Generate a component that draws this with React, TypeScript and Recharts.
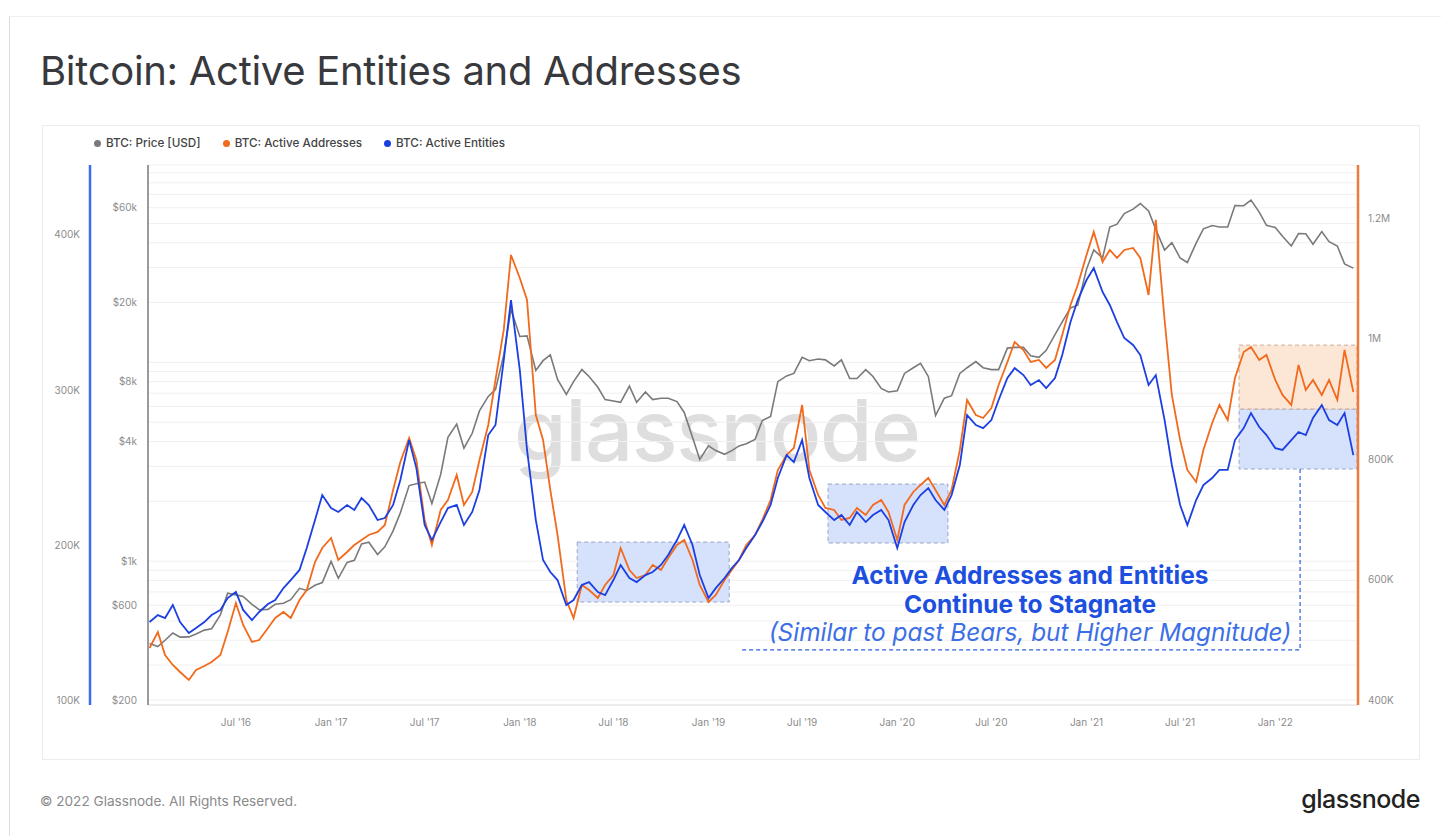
import React from 'react';
import {
  LineChart,
  Line,
  XAxis,
  YAxis,
  CartesianGrid,
  Legend,
  ReferenceArea,
  ReferenceLine,
} from 'recharts';

// ---------- DATA ----------
const dates = [
  '2016-01-16', '2016-02-01', '2016-02-15', '2016-03-01', '2016-03-15', '2016-04-01', '2016-04-15', '2016-05-01', '2016-05-15', '2016-06-01', '2016-06-15',
  '2016-07-01', '2016-07-15', '2016-08-01', '2016-08-15', '2016-09-01', '2016-09-15', '2016-10-01', '2016-10-15', '2016-11-01', '2016-11-15', '2016-12-01', '2016-12-15',
  '2017-01-01', '2017-01-15', '2017-02-01', '2017-02-15', '2017-03-01', '2017-03-15', '2017-04-01', '2017-04-15', '2017-05-01', '2017-05-15', '2017-06-01', '2017-06-15',
  '2017-07-01', '2017-07-15', '2017-08-01', '2017-08-15', '2017-09-01', '2017-09-15', '2017-10-01', '2017-10-15', '2017-11-01', '2017-11-15', '2017-12-01', '2017-12-15',
  '2018-01-01', '2018-01-15', '2018-02-01', '2018-02-15', '2018-03-01', '2018-03-15', '2018-04-01', '2018-04-15', '2018-05-01', '2018-05-15', '2018-06-01', '2018-06-15',
  '2018-07-01', '2018-07-15', '2018-08-01', '2018-08-15', '2018-09-01', '2018-09-15', '2018-10-01', '2018-10-15', '2018-11-01', '2018-11-15', '2018-12-01', '2018-12-15',
  '2019-01-01', '2019-01-15', '2019-02-01', '2019-02-15', '2019-03-01', '2019-03-15', '2019-04-01', '2019-04-15', '2019-05-01', '2019-05-15', '2019-06-01', '2019-06-15',
  '2019-07-01', '2019-07-15', '2019-08-01', '2019-08-15', '2019-09-01', '2019-09-15', '2019-10-01', '2019-10-15', '2019-11-01', '2019-11-15', '2019-12-01', '2019-12-15',
  '2020-01-01', '2020-01-15', '2020-02-01', '2020-02-15', '2020-03-01', '2020-03-15', '2020-04-01', '2020-04-15', '2020-05-01', '2020-05-15', '2020-06-01', '2020-06-15',
  '2020-07-01', '2020-07-15', '2020-08-01', '2020-08-15', '2020-09-01', '2020-09-15', '2020-10-01', '2020-10-15', '2020-11-01', '2020-11-15', '2020-12-01', '2020-12-15',
  '2021-01-01', '2021-01-15', '2021-02-01', '2021-02-15', '2021-03-01', '2021-03-15', '2021-04-01', '2021-04-15', '2021-05-01', '2021-05-15', '2021-06-01', '2021-06-15',
  '2021-07-01', '2021-07-15', '2021-08-01', '2021-08-15', '2021-09-01', '2021-09-15', '2021-10-01', '2021-10-15', '2021-11-01', '2021-11-15', '2021-12-01', '2021-12-15',
  '2022-01-01', '2022-01-15', '2022-02-01', '2022-02-15', '2022-03-01', '2022-03-15', '2022-04-01', '2022-04-15', '2022-05-01', '2022-05-15', '2022-06-01',
];

const priceUsd = [
  385, 372, 400, 435, 415, 416, 430, 450, 457, 537, 690,
  677, 665, 607, 570, 572, 607, 614, 640, 730, 712, 756, 780,
  998, 820, 985, 1010, 1222, 1245, 1080, 1180, 1420, 1750, 2400, 2450,
  2500, 1950, 2730, 4200, 4890, 3700, 4400, 5700, 6740, 7300, 10900, 18500,
  13500, 13600, 9100, 10200, 10900, 8200, 6900, 8000, 9200, 8500, 7500, 6500,
  6400, 6300, 7600, 6300, 7100, 6500, 6600, 6600, 6350, 5600, 4200, 3250,
  3800, 3600, 3450, 3600, 3800, 3900, 4100, 5100, 5350, 8000, 8550, 8800,
  10600, 10200, 10400, 10300, 9600, 10300, 8300, 8300, 9200, 8500, 7400, 7100,
  7200, 8800, 9400, 9900, 8500, 5400, 6600, 6800, 8800, 9400, 10100, 9400,
  9200, 9200, 11800, 11900, 11900, 10800, 10600, 11500, 13800, 16000, 18800, 19400,
  29400, 36800, 33500, 48000, 49600, 56000, 59000, 63000, 57800, 46700, 36700, 40000,
  33500, 31800, 39800, 47000, 48800, 48000, 48000, 61500, 61400, 65500, 57000, 48900,
  47700, 43100, 38500, 44500, 44400, 39300, 45500, 40500, 38500, 31300, 29800,
];

const activeAddresses = [
  486300, 512900, 474700, 458100, 446500, 433200, 449800, 456400, 463100, 474700, 512900,
  561000, 524500, 496300, 499600, 519500, 536100, 546100, 536100, 566000, 582600, 629100, 652300,
  668900, 632400, 645700, 657300, 665600, 673900, 678900, 690500, 748600, 795100, 834900, 798400,
  698800, 657300, 715400, 732000, 773500, 723700, 745300, 798400, 856500, 931200, 1014200, 1138700,
  1100500, 1064000, 873100, 831600, 748600, 673900, 566000, 536100, 590900, 582600, 569300, 590900,
  607500, 652300, 615800, 602500, 607500, 624100, 615800, 635700, 657300, 665600, 632400, 590900,
  562700, 574300, 599200, 615800, 632400, 657300, 673900, 698800, 732000, 781800, 806700, 818300,
  889700, 781800, 740300, 718700, 715400, 698800, 702100, 718700, 707100, 723700, 732000, 712100,
  665600, 723700, 745300, 756900, 768500, 748600, 723700, 748600, 815000, 898000, 873100, 868100,
  884700, 922900, 961100, 994300, 981000, 961100, 964400, 951100, 964400, 1005900, 1055700, 1088900,
  1138700, 1176900, 1127100, 1147000, 1133700, 1147000, 1150300, 1133700, 1072300, 1196800, 1030800, 906300,
  831600, 781800, 761900, 815000, 859800, 889700, 864800, 934500, 977700, 986000, 964400, 972700,
  931200, 906300, 889700, 956100, 914600, 931200, 906300, 931200, 898000, 981000, 911300,
];

const activeEntities = [
  150300, 154800, 152900, 161300, 150300, 143200, 146400, 150300, 154800, 158100, 165800,
  169700, 158100, 151600, 156800, 161900, 164500, 172200, 177400, 183900, 198000, 216100, 232200,
  223800, 221300, 225800, 222600, 230300, 225800, 216100, 217400, 225800, 241900, 267700, 249600,
  212900, 203200, 214800, 223800, 225800, 212900, 221300, 235500, 270900, 277400, 319300, 358000,
  312900, 261300, 216100, 190300, 182600, 177400, 161300, 164500, 174200, 176100, 169700, 167700,
  177400, 187100, 178700, 176100, 180600, 182600, 187100, 193500, 203200, 212900, 200000, 180600,
  165800, 172200, 178700, 185100, 190300, 198000, 206400, 214800, 225800, 243200, 258000, 253500,
  267700, 243200, 225800, 221300, 216100, 219300, 212900, 221300, 214800, 219300, 222600, 216100,
  198000, 214800, 225800, 232200, 236700, 229000, 222600, 232200, 251600, 283800, 277400, 275400,
  280600, 293500, 307700, 314100, 309600, 303200, 306400, 301200, 307700, 322500, 343800, 358000,
  370900, 378600, 363200, 354800, 343800, 333500, 329000, 322500, 303200, 309600, 280600, 251600,
  225800, 212900, 229000, 238700, 243200, 248400, 248400, 267700, 275400, 285100, 276100, 270900,
  262500, 261300, 267700, 272900, 270900, 281900, 290300, 280600, 277400, 285100, 258000,
];

const seriesNames = ['BTC: Price [USD]', 'BTC: Active Addresses', 'BTC: Active Entities'];

const xTickDates = [
  '2016-07-01', '2017-01-01', '2017-07-01', '2018-01-01', '2018-07-01', '2019-01-01',
  '2019-07-01', '2020-01-01', '2020-07-01', '2021-01-01', '2021-07-01', '2022-01-01',
];
const xTickLabels = [
  "Jul '16", "Jan '17", "Jul '17", "Jan '18", "Jul '18", "Jan '19",
  "Jul '19", "Jan '20", "Jul '20", "Jan '21", "Jul '21", "Jan '22",
];
const xDomainDates = ['2016-01-13', '2022-06-10'];

const entityTicks = [100000, 200000, 300000, 400000];
const entityDomain = [96800, 445100];
const addressTicks = [400000, 600000, 800000, 1000000, 1200000];
const addressDomain = [391700, 1288000];
const priceGridTicks = [
  200, 300, 400, 500, 600, 700, 800, 900,
  1000, 2000, 3000, 4000, 5000, 6000, 7000, 8000, 9000,
  10000, 20000, 30000, 40000, 50000, 60000, 70000, 80000, 90000,
];
const priceLabelTicks = [200, 600, 1000, 4000, 8000, 20000, 60000];
const priceDomain = [189, 98400];

// Annotation boxes (dates + values)
const stagnationBoxesEntities = [
  { from: '2018-04-22', to: '2019-02-10', low: 163200, high: 201900 },
  { from: '2019-08-20', to: '2020-04-08', low: 201300, high: 239300 },
  { from: '2021-10-23', to: '2022-06-08', low: 249000, high: 287700 },
];
const stagnationBoxesAddresses = [
  { from: '2021-10-23', to: '2022-06-08', low: 883000, high: 989000 },
];
const pointerLine = { fromDate: '2019-03-07', cornerDate: '2022-02-18', bottom: 132300, top: 249000 };

// ---------- HELPERS ----------
const ts = (d: string) => Date.parse(d + 'T00:00:00Z');

const rows = dates.map((d, i) => ({
  t: ts(d),
  price: priceUsd[i],
  addresses: activeAddresses[i],
  entities: activeEntities[i],
}));

const COLORS = {
  price: '#7a7a7a',
  addresses: '#f26a1c',
  entities: '#1c3fe2',
};

// axis ids (price sits next to the plot, entities outside it)
const PRICE_AXIS = 'a-price';
const ENTITY_AXIS = 'b-entities';
const ADDRESS_AXIS = 'c-addresses';

const FONT = 'Inter, "Noto Sans", sans-serif';
const tickStyle = { fontSize: 10, fill: '#8c8c8c', fontFamily: FONT };

const fmtEntity = (v: number) => `${Math.round(v / 1000)}K`;
const fmtAddress = (v: number) => (v >= 1000000 ? `${v / 1000000}M` : `${Math.round(v / 1000)}K`);
const fmtPrice = (v: number) => {
  if (!priceLabelTicks.includes(v)) return '';
  return v >= 1000 ? `$${v / 1000}k` : `$${v}`;
};
const fmtDate = (v: number) => {
  const i = xTickDates.map(ts).indexOf(v);
  return i >= 0 ? xTickLabels[i] : '';
};

const renderLegend = (props: any) => {
  const payload = [...(props.payload || [])].sort(
    (a: any, b: any) => seriesNames.indexOf(a.value) - seriesNames.indexOf(b.value)
  );
  return (
    <div style={{ display: 'flex', height: 32, fontFamily: FONT, fontSize: 11.7, fontWeight: 500, color: '#444' }}>
      {payload.map((p: any) => (
        <div key={p.value} style={{ display: 'flex', alignItems: 'center', height: 20, marginRight: 22 }}>
          <span style={{ width: 7, height: 7, borderRadius: '50%', background: p.color, marginRight: 5, display: 'inline-block' }} />
          <span>{p.value}</span>
        </div>
      ))}
    </div>
  );
};

export default function App() {
  return (
    <div style={{ position: 'absolute', left: 0, top: 0, width: 1441, height: 836, background: '#fff', overflow: 'hidden', fontFamily: FONT }}>
      {/* outer card frame */}
      <div style={{ position: 'absolute', left: 9, top: 16, right: 0, bottom: -2, borderLeft: '1px solid #dcdcdc', borderTop: '1px solid #f0f0f0' }} />

      {/* title */}
      <div style={{ position: 'absolute', left: 40, top: 46, fontSize: 40, fontWeight: 400, color: '#38393d', letterSpacing: -0.3, whiteSpace: 'nowrap' }}>
        Bitcoin: Active Entities and Addresses
      </div>

      {/* chart panel */}
      <div style={{ position: 'absolute', left: 42, top: 125, width: 1378, height: 635, border: '1px solid #ececec', boxSizing: 'border-box' }} />

      {/* watermark */}
      <div style={{ position: 'absolute', left: 514, top: 380, fontSize: 85, fontWeight: 500, color: '#dedede', letterSpacing: -1.5, whiteSpace: 'nowrap', zIndex: 0, lineHeight: 1.21 }}>
        glassnode
      </div>

      <div style={{ position: 'absolute', left: 42, top: 125, zIndex: 1 }}>
        <LineChart width={1378} height={635} data={rows} margin={{ top: 8, right: 12, bottom: 25, left: 0 }}>
          <CartesianGrid yAxisId={PRICE_AXIS} horizontal vertical={false} stroke="#f0f0f0" />
          <XAxis
            dataKey="t"
            type="number"
            scale="time"
            domain={xDomainDates.map(ts)}
            ticks={xTickDates.map(ts)}
            tickFormatter={fmtDate}
            tick={tickStyle}
            tickLine={false}
            tickSize={6}
            tickMargin={8}
            axisLine={{ stroke: '#e2e2e2' }}
            height={30}
            allowDataOverflow
          />
          <YAxis
            yAxisId={PRICE_AXIS}
            orientation="left"
            scale="log"
            domain={priceDomain}
            ticks={priceGridTicks}
            tickFormatter={fmtPrice}
            tick={tickStyle}
            tickLine={false}
            tickSize={0}
            tickMargin={11}
            axisLine={{ stroke: '#7a7a7a', strokeWidth: 1.5 }}
            width={58}
            allowDataOverflow
            interval={0}
          />
          <YAxis
            yAxisId={ENTITY_AXIS}
            orientation="left"
            domain={entityDomain}
            ticks={entityTicks}
            tickFormatter={fmtEntity}
            tick={tickStyle}
            tickLine={false}
            tickSize={0}
            tickMargin={10}
            axisLine={{ stroke: '#3b6cf2', strokeWidth: 2.5 }}
            width={48}
            allowDataOverflow
            interval={0}
          />
          <YAxis
            yAxisId={ADDRESS_AXIS}
            orientation="right"
            domain={addressDomain}
            ticks={addressTicks}
            tickFormatter={fmtAddress}
            tick={tickStyle}
            tickLine={false}
            tickSize={0}
            tickMargin={10}
            axisLine={{ stroke: '#f07a3c', strokeWidth: 2.5 }}
            width={50}
            allowDataOverflow
            interval={0}
          />
          <Legend verticalAlign="top" align="left" content={renderLegend} wrapperStyle={{ top: 8, left: 52, width: 'auto' }} />

          {stagnationBoxesEntities.map((b) => (
            <ReferenceArea
              key={b.from}
              yAxisId={ENTITY_AXIS}
              x1={ts(b.from)}
              x2={ts(b.to)}
              y1={b.low}
              y2={b.high}
              fill="#cfdcfa"
              fillOpacity={0.85}
              stroke="#9aa6c4"
              strokeDasharray="4 3"
              strokeWidth={1}
              ifOverflow="extendDomain"
            />
          ))}
          {stagnationBoxesAddresses.map((b) => (
            <ReferenceArea
              key={b.from}
              yAxisId={ADDRESS_AXIS}
              x1={ts(b.from)}
              x2={ts(b.to)}
              y1={b.low}
              y2={b.high}
              fill="#fbe2cf"
              fillOpacity={0.85}
              stroke="#cfa88f"
              strokeDasharray="4 3"
              strokeWidth={1}
              ifOverflow="extendDomain"
            />
          ))}
          <ReferenceLine
            yAxisId={ENTITY_AXIS}
            segment={[
              { x: ts(pointerLine.cornerDate), y: pointerLine.top },
              { x: ts(pointerLine.cornerDate), y: pointerLine.bottom },
            ]}
            stroke="#2f5fd8"
            strokeDasharray="4 3"
            strokeWidth={1.2}
          />
          <ReferenceLine
            yAxisId={ENTITY_AXIS}
            segment={[
              { x: ts(pointerLine.fromDate), y: pointerLine.bottom },
              { x: ts(pointerLine.cornerDate), y: pointerLine.bottom },
            ]}
            stroke="#2f5fd8"
            strokeDasharray="4 3"
            strokeWidth={1.2}
          />

          <Line yAxisId={PRICE_AXIS} dataKey="price" name={seriesNames[0]} stroke={COLORS.price} strokeWidth={1.6} dot={false} isAnimationActive={false} />
          <Line yAxisId={ADDRESS_AXIS} dataKey="addresses" name={seriesNames[1]} stroke={COLORS.addresses} strokeWidth={1.8} dot={false} isAnimationActive={false} />
          <Line yAxisId={ENTITY_AXIS} dataKey="entities" name={seriesNames[2]} stroke={COLORS.entities} strokeWidth={1.8} dot={false} isAnimationActive={false} />
        </LineChart>
      </div>

      {/* annotation */}
      <div style={{ position: 'absolute', left: 730, width: 600, top: 561, textAlign: 'center', zIndex: 2, color: '#1c4fe0', fontWeight: 700, fontSize: 24.5, lineHeight: '28.5px' }}>
        <div>Active Addresses and Entities</div>
        <div>Continue to Stagnate</div>
        <div style={{ fontWeight: 400, fontStyle: 'italic', color: '#3c6fe6', fontSize: 24.4 }}>(Similar to past Bears, but Higher Magnitude)</div>
      </div>

      {/* footer */}
      <div style={{ position: 'absolute', left: 40, top: 793, fontSize: 13.6, color: '#8a8a8a' }}>© 2022 Glassnode. All Rights Reserved.</div>
      <div style={{ position: 'absolute', right: 21, top: 784, fontSize: 25, fontWeight: 500, color: '#222', letterSpacing: -0.5 }}>glassnode</div>
    </div>
  );
}
